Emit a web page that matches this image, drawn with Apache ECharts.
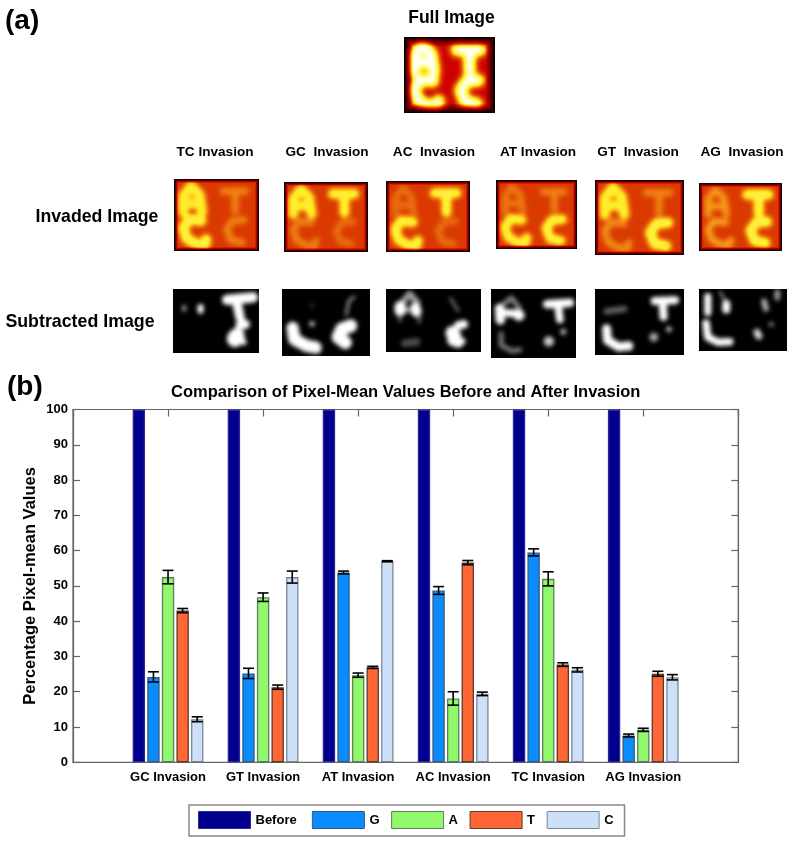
<!DOCTYPE html>
<html>
<head>
<meta charset="utf-8">
<style>html,body{margin:0;padding:0;background:#fff}#c{width:793px;height:841px}</style>
<script src="https://cdn.jsdelivr.net/npm/echarts@6/dist/echarts.min.js"></script>
</head>
<body>
<div id="c"></div>
<script>
// ---- chart data ----
const categories = ['', 'GC Invasion', 'GT Invasion', 'AT Invasion', 'AC Invasion', 'TC Invasion', 'AG Invasion', ''];
const before = ['-', 100, 100, 100, 100, 100, 100, '-'];
const gValues = ['-', 24.2, 25.2, 53.8, 48.7, 59.5, 7.6, '-'];
const aValues = ['-', 52.5, 46.8, 24.7, 18.1, 52.0, 9.2, '-'];
const tValues = ['-', 43.0, 21.3, 26.9, 56.6, 27.7, 25.1, '-'];
const cValues = ['-', 12.2, 52.5, 57.0, 19.4, 26.2, 24.1, '-'];
const gErr = [1.45, 1.45, 0.4, 1.1, 1.0, 0.4];
const aErr = [1.9, 1.2, 0.6, 1.9, 2.0, 0.45];
const tErr = [0.6, 0.6, 0.3, 0.6, 0.5, 0.7];
const cErr = [0.7, 1.7, 0.15, 0.5, 0.6, 0.75];
const legendNames = ['Before', 'G', 'A', 'T', 'C'];
const colors = { Before: '#00008c', G: '#0a8cff', A: '#90f86a', T: '#ff6633', C: '#cde0f8' };
const borders = { Before: '#2a2a96', G: '#3a5a7a', A: '#5f7f5f', T: '#5a3a30', C: '#7a8798' };
const panelLabels = ['TC Invasion', 'GC  Invasion', 'AC  Invasion', 'AT Invasion', 'GT  Invasion', 'AG  Invasion'];

// ---- letter strokes of the photographs (unit panel coordinates) ----
const LA = [[[.11,.46],[.11,.24],[.2,.1],[.3,.22],[.33,.46]], [[.12,.34],[.31,.34]]];
const LT = [[[.58,.17],[.84,.17]], [[.72,.17],[.72,.44]]];
const LG = [[[.32,.58],[.18,.56],[.11,.68],[.15,.83],[.26,.9],[.36,.92],[.38,.84]]];
const LC = [[[.82,.57],[.69,.58],[.62,.7],[.67,.85],[.8,.88]]];
function letters(a, t, g, c, lw) {
  const out = [];
  [[LA,a],[LT,t],[LG,g],[LC,c]].forEach(([L, v]) => L.forEach(p => out.push([v, v < .7 ? lw*.7 : lw, p])));
  return out;
}
const hotStops = [[0,[0,0,0]],[.33,[208,0,0]],[.46,[218,60,0]],[.6,[240,130,20]],[.76,[255,232,30]],[.9,[255,250,130]],[1,[255,255,255]]];
function hot(v) {
  for (let i = 1; i < hotStops.length; i++) {
    if (v <= hotStops[i][0]) {
      const [a, ca] = hotStops[i-1], [b, cb] = hotStops[i], t = (v-a)/(b-a);
      return ca.map((x, k) => x + (cb[k]-x)*t);
    }
  }
  return [255,255,255];
}
function photo(w, h, base, strokes, blur, useHot, vig) {
  const src = document.createElement('canvas'); src.width = w; src.height = h;
  const s = src.getContext('2d');
  const g0 = Math.round(base*255);
  s.fillStyle = `rgb(${g0},${g0},${g0})`; s.fillRect(0,0,w,h);
  s.globalCompositeOperation = 'lighten';
  s.lineCap = 'round'; s.lineJoin = 'round';
  strokes.forEach(([v, lw, pts]) => {
    const g = Math.round(v*255);
    s.strokeStyle = `rgb(${g},${g},${g})`;
    s.lineWidth = lw*w;
    s.beginPath();
    pts.forEach((p, i) => { const x = p[0]*w, y = p[1]*h; i ? s.lineTo(x,y) : s.moveTo(x,y); });
    if (pts.length === 1) s.lineTo(pts[0][0]*w+.1, pts[0][1]*h);
    s.stroke();
  });
  const out = document.createElement('canvas'); out.width = w; out.height = h;
  const o = out.getContext('2d');
  o.fillStyle = `rgb(${g0},${g0},${g0})`; o.fillRect(0,0,w,h);
  o.filter = `blur(${blur}px)`; o.drawImage(src,0,0); o.filter = 'none';
  const im = o.getImageData(0,0,w,h);
  for (let y = 0; y < h; y++) for (let x = 0; x < w; x++) {
    const i = (y*w+x)*4; let v = im.data[i]/255;
    if (vig) {
      const e = Math.min(x, w-1-x, y, h-1-y) / vig;
      v *= Math.min(1, .05 + .95*e);
    }
    const c = useHot ? hot(v) : [v*255,v*255,v*255];
    im.data[i]=c[0]; im.data[i+1]=c[1]; im.data[i+2]=c[2]; im.data[i+3]=255;
  }
  o.putImageData(im,0,0);
  return out;
}
const fullStrokes = letters(1, 1, 1, 1, .135);
const invadedPanels = [
  { x:174, y:179, w:85, h:72, s: letters(.79,.6,.82,.6,.125) },
  { x:284, y:182, w:84, h:70, s: letters(.79,.8,.6,.56,.12) },
  { x:386, y:181, w:84, h:71, s: letters(.56,.81,.81,.56,.12) },
  { x:496, y:180, w:81, h:69, s: letters(.58,.6,.8,.81,.12) },
  { x:595, y:180, w:89, h:75, s: letters(.79,.6,.62,.82,.12) },
  { x:699, y:183, w:83, h:68, s: letters(.64,.81,.65,.82,.125) }
];
const subtractedPanels = [
  { x:173, y:289, w:86, h:64, s: [
    [1,.12,[[.63,.17],[.93,.13]]], [1,.11,[[.74,.2],[.78,.45]]], [1,.11,[[.78,.57],[.84,.55]]],
    [1,.19,[[.72,.78],[.74,.74]]], [1,.07,[[.82,.83]]], [.6,.05,[[.13,.32],[.13,.28]]], [1,.07,[[.32,.28],[.32,.34]]] ] },
  { x:282, y:289, w:88, h:67, s: [
    [1,.14,[[.12,.58],[.14,.75],[.28,.85],[.38,.87]]], [1,.09,[[.36,.84],[.4,.9]]],
    [1,.15,[[.78,.55],[.68,.6],[.64,.72],[.72,.8]]], [.55,.035,[[.73,.38],[.76,.18],[.82,.12]]],
    [.8,.06,[[.34,.52]]], [.3,.04,[[.34,.25]]] ] },
  { x:386, y:289, w:95, h:63, s: [
    [1,.12,[[.15,.28],[.15,.34]]], [1,.11,[[.31,.3],[.32,.36]]], [.6,.07,[[.17,.22],[.25,.08],[.33,.22]]],
    [.55,.06,[[.18,.33],[.3,.33]]], [.4,.04,[[.14,.45],[.15,.5]]], [.4,.04,[[.35,.45],[.35,.52]]],
    [1,.15,[[.72,.75],[.7,.7]]], [1,.09,[[.76,.58],[.82,.56]]], [1,.07,[[.8,.83]]], [1,.11,[[.7,.82],[.76,.85]]],
    [.45,.03,[[.68,.15],[.76,.35]]], [.3,.08,[[.2,.86],[.32,.84]]] ] },
  { x:491, y:289, w:85, h:69, s: [
    [1,.11,[[.1,.28],[.11,.45]]], [1,.09,[[.12,.34],[.33,.36]]], [1,.13,[[.32,.37],[.33,.38]]],
    [.5,.06,[[.12,.25],[.24,.13],[.33,.27]]], [.45,.06,[[.12,.65],[.12,.82],[.25,.9],[.34,.88]]],
    [1,.1,[[.66,.22],[.93,.2]]], [1,.09,[[.79,.24],[.81,.44]]], [.8,.12,[[.68,.76]]], [.7,.07,[[.85,.62]]] ] },
  { x:595, y:289, w:89, h:66, s: [
    [1,.1,[[.13,.6],[.14,.78],[.27,.88],[.38,.86]]], [.8,.1,[[.36,.86],[.38,.87]]],
    [.38,.07,[[.13,.34],[.33,.3]]], [1,.09,[[.67,.18],[.9,.17]]], [1,.09,[[.76,.2],[.77,.42]]],
    [.65,.1,[[.66,.73]]], [.8,.06,[[.83,.61]]] ] },
  { x:699, y:289, w:88, h:62, s: [
    [1,.08,[[.1,.12],[.1,.38]]], [1,.09,[[.31,.24],[.31,.33]]], [.55,.03,[[.24,.05],[.3,.2]]],
    [1,.085,[[.08,.55],[.1,.78],[.22,.86],[.35,.85]]], [.7,.065,[[.74,.2],[.76,.32]]], [.6,.065,[[.89,.05],[.89,.14]]],
    [.85,.08,[[.66,.7],[.68,.76]]], [.65,.05,[[.82,.57]]] ] }
];

const graphicEls = [];
function addPhoto(p, base, blur, useHot, vig) {
  graphicEls.push({ type:'image', silent:true, x:p.x, y:p.y,
    style:{ image: photo(p.w, p.h, base, p.s, blur, useHot, vig), width:p.w, height:p.h } });
}
function addText(text, x, y, size, align) {
  graphicEls.push({ type:'text', silent:true, x, y,
    style:{ text, fill:'#000', font:`bold ${size}px "Liberation Sans", Arial, sans-serif`, align:align||'center', verticalAlign:'middle' } });
}
addPhoto({ x:404, y:37, w:91, h:76, s:fullStrokes }, .33, 3, true, 9);
invadedPanels.forEach(p => addPhoto(p, .455, 2.8, true, 3.5));
subtractedPanels.forEach(p => addPhoto(p, 0, 2.2, false, 0));
addText('(a)', 5, 21, 28, 'left');
addText('(b)', 7, 387, 28, 'left');
addText('Full Image', 451.5, 18, 17.5);
addText('Invaded Image', 97, 217.5, 17.7);
addText('Subtracted Image', 80, 322, 17.8);
[215, 327, 434, 538, 638, 742].forEach((x, i) => addText(panelLabels[i], x, 152, 13.6));

// ---- chart ----
const barWidth = 12.4, pitchFraction = 0.1535;
function errSeries(values, err, offset, name) {
  return {
    type:'custom', name, z:5, silent:true, clip:false,
    data: err.map((e, i) => [i + 1, values[i + 1] - e, values[i + 1] + e]),
    encode:{ x:0, y:[1,2] },
    renderItem(params, api) {
      const band = api.size([1,0])[0];
      const lo = api.coord([api.value(0), api.value(1)]);
      const hi = api.coord([api.value(0), api.value(2)]);
      const cx = lo[0] + offset*band*pitchFraction;
      const cap = band*0.058;
      const st = { stroke:'#000', lineWidth:1.6, fill:null };
      return { type:'group', children:[
        { type:'line', shape:{x1:cx,y1:lo[1],x2:cx,y2:hi[1]}, style:st },
        { type:'line', shape:{x1:cx-cap,y1:lo[1],x2:cx+cap,y2:lo[1]}, style:st },
        { type:'line', shape:{x1:cx-cap,y1:hi[1],x2:cx+cap,y2:hi[1]}, style:st }
      ]};
    }
  };
}
function barSeries(name, data) {
  return { type:'bar', name, data, barWidth, barGap:'17.7%',
    itemStyle:{ color:colors[name], borderColor:borders[name], borderWidth:1.3 },
    emphasis:{ disabled:true } };
}
const labelFont = { fontFamily:'"Liberation Sans", Arial, sans-serif', fontWeight:'bold', color:'#000' };
const chart = echarts.init(document.getElementById('c'));
chart.setOption({
  animation:false,
  backgroundColor:'#fff',
  graphic:{ elements: graphicEls },
  title:{ text:'Comparison of Pixel-Mean Values Before and After Invasion', left:171, top:384,
    padding:0, textStyle:{ ...labelFont, fontSize:16.5 } },
  grid:{ left:73, right:54.7, top:409.5, bottom:78.7, show:true, borderColor:'#666', borderWidth:1.2, backgroundColor:'#fff' },
  xAxis:[
    { type:'category', data:categories, boundaryGap:false, position:'bottom',
      axisLine:{ show:true, onZero:false, lineStyle:{ color:'#666', width:1.2 } },
      axisTick:{ show:false },
      axisLabel:{ ...labelFont, fontSize:13, interval:0, margin:9 } },
    { type:'category', data:categories, boundaryGap:false, position:'top',
      axisLine:{ show:false, onZero:false },
      axisTick:{ show:true, inside:true, length:7, interval:0, lineStyle:{ color:'#666', width:1.2 } },
      axisLabel:{ show:false } }
  ],
  yAxis:[
    { type:'value', min:0, max:100, interval:10, position:'left',
      name:'Percentage Pixel-mean Values', nameLocation:'middle', nameRotate:90, nameGap:34, nameMoveOverlap:false,
      nameTextStyle:{ ...labelFont, fontSize:16.5 },
      axisLine:{ show:true, lineStyle:{ color:'#666', width:1.2 } },
      axisTick:{ show:true, inside:true, length:7, lineStyle:{ color:'#666', width:1.2 } },
      axisLabel:{ ...labelFont, fontSize:13, margin:5, padding:[2,0,0,0], verticalAlignMaxLabel:'middle', verticalAlignMinLabel:'middle' },
      splitLine:{ show:false } },
    { type:'value', min:0, max:100, interval:10, position:'right',
      axisLine:{ show:true, lineStyle:{ color:'#666', width:1.2 } },
      axisTick:{ show:true, inside:true, length:7, lineStyle:{ color:'#666', width:1.2 } },
      axisLabel:{ show:false }, splitLine:{ show:false } }
  ],
  legend:{ data:legendNames, left:189, top:805, orient:'horizontal', itemWidth:52, itemHeight:17, itemGap:11.6,
    formatter:n => n === 'Before' ? 'Before ' : n,
    padding:[6,11,7,9], backgroundColor:'#fff', borderColor:'#888', borderWidth:1.5,
    selectedMode:false, icon:'rect', itemStyle:{ borderWidth:1 }, textStyle:{ ...labelFont, fontSize:13 } },
  series:[
    barSeries('Before', before), barSeries('G', gValues), barSeries('A', aValues), barSeries('T', tValues), barSeries('C', cValues),
    errSeries(gValues, gErr, -1, 'G error'), errSeries(aValues, aErr, 0, 'A error'),
    errSeries(tValues, tErr, 1, 'T error'), errSeries(cValues, cErr, 2, 'C error')
  ]
});
</script>
</body>
</html>
